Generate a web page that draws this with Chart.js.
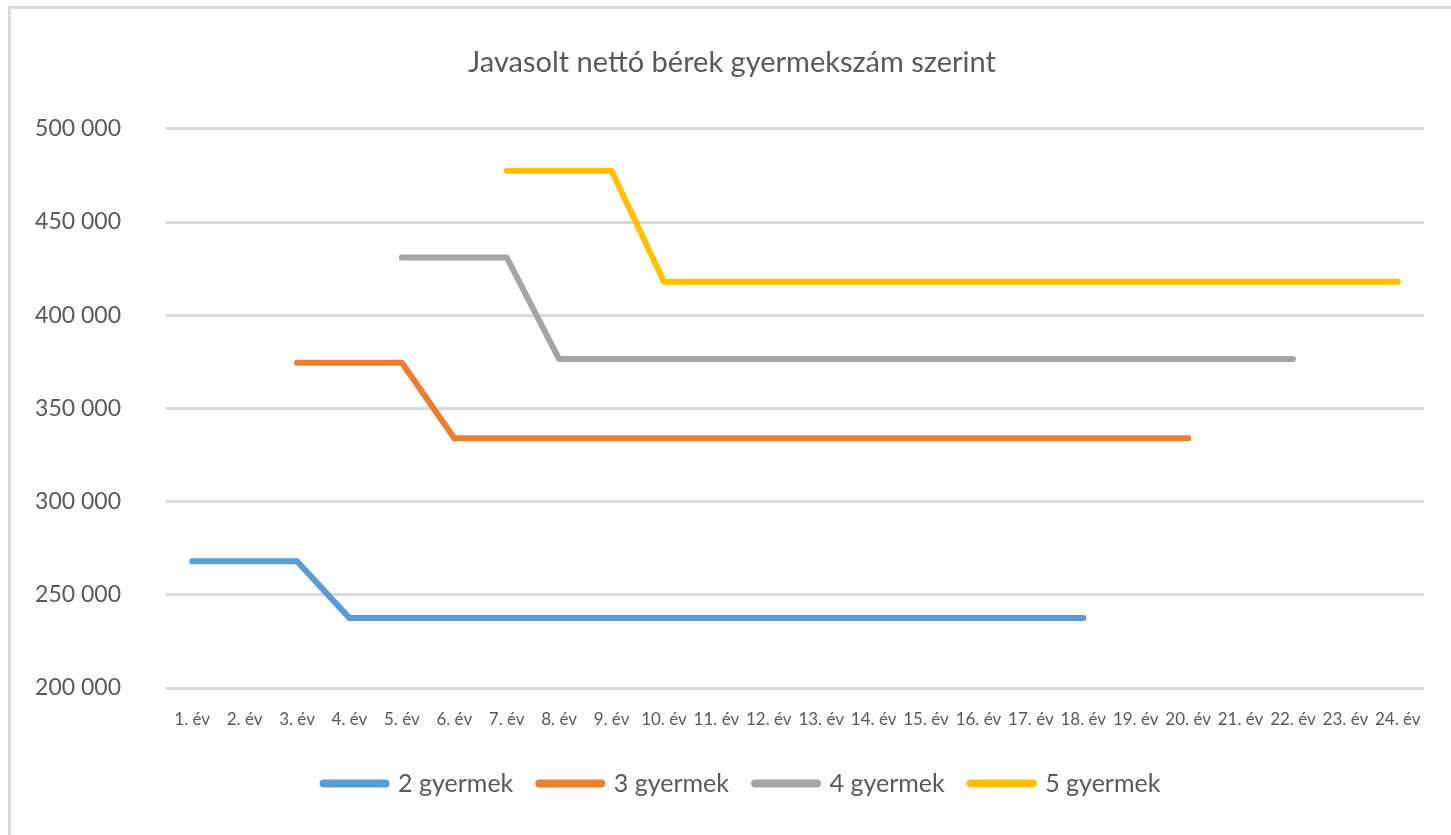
<!DOCTYPE html>
<html>
<head>
<meta charset="utf-8">
<script src="https://cdn.jsdelivr.net/npm/chart.js@4/dist/chart.umd.min.js"></script>
<style>
  html, body { margin: 0; padding: 0; background: #fff; }
  #wrap { position: relative; width: 1451px; height: 835px; overflow: hidden; }
  #frame { position: absolute; left: 8px; top: 6px; width: 1460px; height: 850px; border: 3px solid #d9d9d9; box-sizing: border-box; }
  canvas { position: absolute; left: 0; top: 0; }
</style>
</head>
<body>
<div id="wrap">
  <div id="frame"></div>
  <canvas id="myChart" width="1451" height="835"></canvas>
</div>
<script>
// years 1..24
const years = ['1. év', '2. év', '3. év', '4. év', '5. év', '6. év', '7. év', '8. év', '9. év', '10. év',
  '11. év', '12. év', '13. év', '14. év', '15. év', '16. év', '17. év', '18. év', '19. év', '20. év',
  '21. év', '22. év', '23. év', '24. év'];

const gyermek2 = [268000, 268000, 268000, 237500, 237500, 237500, 237500, 237500, 237500, 237500,
  237500, 237500, 237500, 237500, 237500, 237500, 237500, 237500, null, null,
  null, null, null, null];
const gyermek3 = [null, null, 374500, 374500, 374500, 334000, 334000, 334000, 334000, 334000,
  334000, 334000, 334000, 334000, 334000, 334000, 334000, 334000, 334000, 334000,
  null, null, null, null];
const gyermek4 = [null, null, null, null, 431000, 431000, 431000, 376500, 376500, 376500,
  376500, 376500, 376500, 376500, 376500, 376500, 376500, 376500, 376500, 376500,
  376500, 376500, null, null];
const gyermek5 = [null, null, null, null, null, null, 477500, 477500, 477500, 418000,
  418000, 418000, 418000, 418000, 418000, 418000, 418000, 418000, 418000, 418000,
  418000, 418000, 418000, 418000];

const yTicks = [200000, 250000, 300000, 350000, 400000, 450000, 500000];

const textColor = '#595959';
const fontFamily = 'Lato, "Open Sans", sans-serif';

function makeSet(label, values, color) {
    return {
        label: label,
        data: values,
        borderColor: color,
        backgroundColor: color,
        borderWidth: 6,
        borderCapStyle: 'round',
        borderJoinStyle: 'round',
        pointRadius: 0,
        pointHoverRadius: 0,
        tension: 0,
        spanGaps: false
    };
}

// nudge title and legend a bit to the right, like in the original
const nudge = {
    id: 'nudge',
    afterLayout(chart) {
        chart.titleBlock.left += 10;
        chart.titleBlock.right += 10;
        chart.legend.left += 20;
        chart.legend.right += 20;
    }
};

const data = {
    labels: years,
    datasets: [
        makeSet('2 gyermek', gyermek2, '#5b9bd5'),
        makeSet('3 gyermek', gyermek3, '#ed7d31'),
        makeSet('4 gyermek', gyermek4, '#a5a5a5'),
        makeSet('5 gyermek', gyermek5, '#ffc000')
    ]
};

const config = {
    type: 'line',
    data: data,
    plugins: [nudge],
    options: {
        responsive: false,
        animation: false,
        layout: { padding: { left: 20, right: 27, top: 45, bottom: 29 } },
        plugins: {
            title: {
                display: true,
                text: 'Javasolt nettó bérek gyermekszám szerint',
                color: textColor,
                font: { family: fontFamily, size: 29, weight: 'normal' },
                padding: { top: 0, bottom: 49 }
            },
            legend: {
                position: 'bottom',
                labels: {
                    color: textColor,
                    font: { family: fontFamily, size: 25 },
                    usePointStyle: true,
                    pointStyle: 'line',
                    pointStyleWidth: 62,
                    boxHeight: 8,
                    padding: 26,
                    generateLabels: function (chart) {
                        const items = Chart.defaults.plugins.legend.labels.generateLabels(chart);
                        items.forEach(it => { it.lineWidth = 8; it.lineCap = 'round'; });
                        return items;
                    }
                }
            },
            tooltip: { enabled: false }
        },
        scales: {
            x: {
                offset: true,
                grid: { display: false, drawTicks: false },
                border: { display: false },
                ticks: {
                    color: textColor,
                    font: { family: fontFamily, size: 17 },
                    maxRotation: 0,
                    autoSkip: false,
                    padding: 21
                },
                afterFit: function (scale) { scale.height = 57; }
            },
            y: {
                min: 200000,
                max: 500000,
                afterBuildTicks: function (scale) {
                    scale.ticks = yTicks.map(v => ({ value: v }));
                },
                grid: { color: '#d9d9d9', lineWidth: 3, drawTicks: false },
                border: { display: false },
                ticks: {
                    color: textColor,
                    font: { family: fontFamily, size: 23 },
                    padding: 45,
                    callback: function (v) {
                        return String(v).replace(/\B(?=(\d{3})+(?!\d))/g, ' ');
                    }
                },
                afterFit: function (scale) { scale.width = 146; }
            }
        }
    }
};

new Chart(document.getElementById('myChart'), config);
</script>
</body>
</html>
